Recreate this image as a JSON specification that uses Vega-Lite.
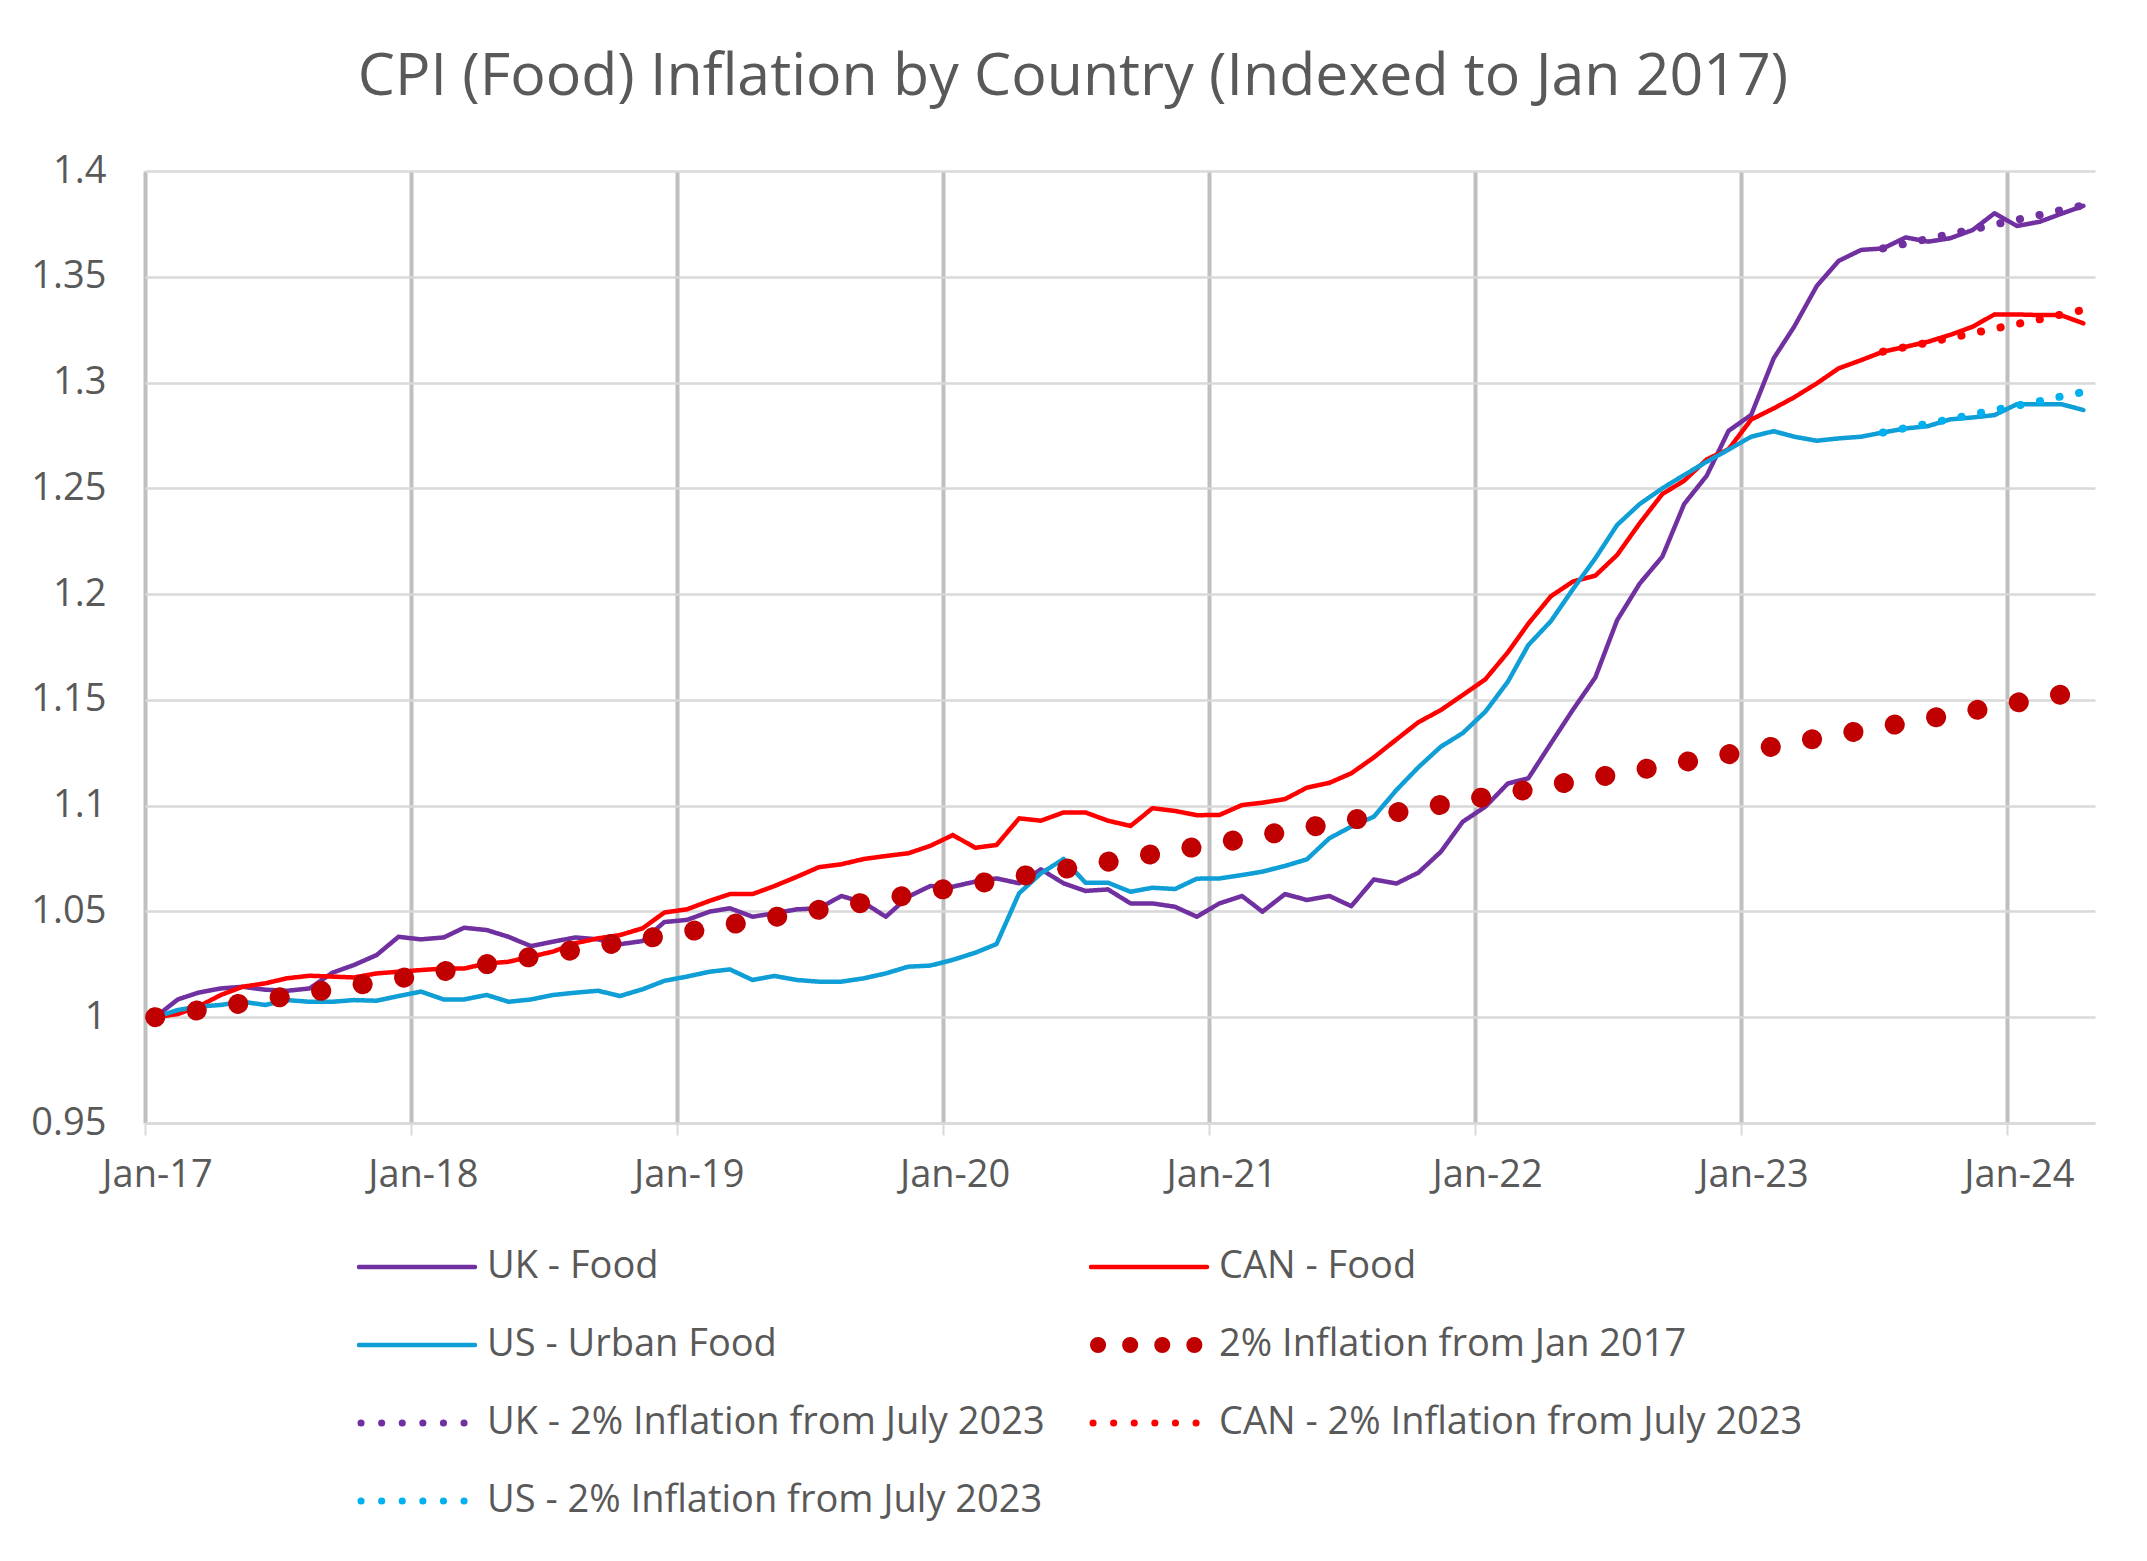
{
  "$schema": "https://vega.github.io/schema/vega-lite/v6.json",
  "autosize": {"type": "none"},
  "width": 1950,
  "height": 952,
  "padding": {"left": 145, "top": 171, "right": 52, "bottom": 438},
  "background": "white",
  "title": {
    "text": "CPI (Food) Inflation by Country (Indexed to Jan 2017)",
    "font": "Open Sans", "fontSize": 59, "fontWeight": "normal", "color": "#595959",
    "anchor": "middle", "dx": -47, "offset": 45
  },
  "data": {"values": [
    {"d":"2017-01-15","UK - Food":1.0000,"CAN - Food":1.0000,"US - Urban Food":1.0000,"2% Inflation from Jan 2017":1.0000},
    {"d":"2017-02-15","UK - Food":1.0084,"CAN - Food":1.0015,"US - Urban Food":1.0034,"2% Inflation from Jan 2017":1.0017},
    {"d":"2017-03-15","UK - Food":1.0116,"CAN - Food":1.0050,"US - Urban Food":1.0050,"2% Inflation from Jan 2017":1.0033},
    {"d":"2017-04-15","UK - Food":1.0136,"CAN - Food":1.0105,"US - Urban Food":1.0058,"2% Inflation from Jan 2017":1.0050},
    {"d":"2017-05-15","UK - Food":1.0144,"CAN - Food":1.0144,"US - Urban Food":1.0073,"2% Inflation from Jan 2017":1.0066},
    {"d":"2017-06-15","UK - Food":1.0130,"CAN - Food":1.0160,"US - Urban Food":1.0058,"2% Inflation from Jan 2017":1.0083},
    {"d":"2017-07-15","UK - Food":1.0125,"CAN - Food":1.0184,"US - Urban Food":1.0081,"2% Inflation from Jan 2017":1.0100},
    {"d":"2017-08-15","UK - Food":1.0136,"CAN - Food":1.0196,"US - Urban Food":1.0073,"2% Inflation from Jan 2017":1.0116},
    {"d":"2017-09-15","UK - Food":1.0210,"CAN - Food":1.0192,"US - Urban Food":1.0073,"2% Inflation from Jan 2017":1.0133},
    {"d":"2017-10-15","UK - Food":1.0247,"CAN - Food":1.0188,"US - Urban Food":1.0081,"2% Inflation from Jan 2017":1.0150},
    {"d":"2017-11-15","UK - Food":1.0294,"CAN - Food":1.0207,"US - Urban Food":1.0078,"2% Inflation from Jan 2017":1.0166},
    {"d":"2017-12-15","UK - Food":1.0380,"CAN - Food":1.0215,"US - Urban Food":1.0100,"2% Inflation from Jan 2017":1.0183},
    {"d":"2018-01-15","UK - Food":1.0368,"CAN - Food":1.0223,"US - Urban Food":1.0121,"2% Inflation from Jan 2017":1.0200},
    {"d":"2018-02-15","UK - Food":1.0377,"CAN - Food":1.0230,"US - Urban Food":1.0084,"2% Inflation from Jan 2017":1.0217},
    {"d":"2018-03-15","UK - Food":1.0423,"CAN - Food":1.0230,"US - Urban Food":1.0084,"2% Inflation from Jan 2017":1.0234},
    {"d":"2018-04-15","UK - Food":1.0412,"CAN - Food":1.0254,"US - Urban Food":1.0105,"2% Inflation from Jan 2017":1.0251},
    {"d":"2018-05-15","UK - Food":1.0380,"CAN - Food":1.0262,"US - Urban Food":1.0073,"2% Inflation from Jan 2017":1.0268},
    {"d":"2018-06-15","UK - Food":1.0336,"CAN - Food":1.0286,"US - Urban Food":1.0084,"2% Inflation from Jan 2017":1.0285},
    {"d":"2018-07-15","UK - Food":1.0357,"CAN - Food":1.0310,"US - Urban Food":1.0105,"2% Inflation from Jan 2017":1.0302},
    {"d":"2018-08-15","UK - Food":1.0377,"CAN - Food":1.0350,"US - Urban Food":1.0116,"2% Inflation from Jan 2017":1.0319},
    {"d":"2018-09-15","UK - Food":1.0368,"CAN - Food":1.0373,"US - Urban Food":1.0125,"2% Inflation from Jan 2017":1.0336},
    {"d":"2018-10-15","UK - Food":1.0345,"CAN - Food":1.0388,"US - Urban Food":1.0100,"2% Inflation from Jan 2017":1.0353},
    {"d":"2018-11-15","UK - Food":1.0360,"CAN - Food":1.0420,"US - Urban Food":1.0132,"2% Inflation from Jan 2017":1.0370},
    {"d":"2018-12-15","UK - Food":1.0450,"CAN - Food":1.0495,"US - Urban Food":1.0172,"2% Inflation from Jan 2017":1.0387},
    {"d":"2019-01-15","UK - Food":1.0460,"CAN - Food":1.0510,"US - Urban Food":1.0192,"2% Inflation from Jan 2017":1.0404},
    {"d":"2019-02-15","UK - Food":1.0499,"CAN - Food":1.0550,"US - Urban Food":1.0215,"2% Inflation from Jan 2017":1.0421},
    {"d":"2019-03-15","UK - Food":1.0515,"CAN - Food":1.0582,"US - Urban Food":1.0226,"2% Inflation from Jan 2017":1.0438},
    {"d":"2019-04-15","UK - Food":1.0475,"CAN - Food":1.0582,"US - Urban Food":1.0176,"2% Inflation from Jan 2017":1.0456},
    {"d":"2019-05-15","UK - Food":1.0491,"CAN - Food":1.0620,"US - Urban Food":1.0195,"2% Inflation from Jan 2017":1.0473},
    {"d":"2019-06-15","UK - Food":1.0510,"CAN - Food":1.0664,"US - Urban Food":1.0176,"2% Inflation from Jan 2017":1.0490},
    {"d":"2019-07-15","UK - Food":1.0515,"CAN - Food":1.0709,"US - Urban Food":1.0168,"2% Inflation from Jan 2017":1.0508},
    {"d":"2019-08-15","UK - Food":1.0573,"CAN - Food":1.0723,"US - Urban Food":1.0168,"2% Inflation from Jan 2017":1.0525},
    {"d":"2019-09-15","UK - Food":1.0541,"CAN - Food":1.0748,"US - Urban Food":1.0184,"2% Inflation from Jan 2017":1.0542},
    {"d":"2019-10-15","UK - Food":1.0475,"CAN - Food":1.0762,"US - Urban Food":1.0207,"2% Inflation from Jan 2017":1.0560},
    {"d":"2019-11-15","UK - Food":1.0570,"CAN - Food":1.0775,"US - Urban Food":1.0239,"2% Inflation from Jan 2017":1.0577},
    {"d":"2019-12-15","UK - Food":1.0620,"CAN - Food":1.0810,"US - Urban Food":1.0244,"2% Inflation from Jan 2017":1.0595},
    {"d":"2020-01-15","UK - Food":1.0617,"CAN - Food":1.0861,"US - Urban Food":1.0271,"2% Inflation from Jan 2017":1.0612},
    {"d":"2020-02-15","UK - Food":1.0641,"CAN - Food":1.0801,"US - Urban Food":1.0305,"2% Inflation from Jan 2017":1.0630},
    {"d":"2020-03-15","UK - Food":1.0656,"CAN - Food":1.0814,"US - Urban Food":1.0346,"2% Inflation from Jan 2017":1.0647},
    {"d":"2020-04-15","UK - Food":1.0633,"CAN - Food":1.0940,"US - Urban Food":1.0586,"2% Inflation from Jan 2017":1.0665},
    {"d":"2020-05-15","UK - Food":1.0699,"CAN - Food":1.0929,"US - Urban Food":1.0680,"2% Inflation from Jan 2017":1.0682},
    {"d":"2020-06-15","UK - Food":1.0633,"CAN - Food":1.0968,"US - Urban Food":1.0748,"2% Inflation from Jan 2017":1.0700},
    {"d":"2020-07-15","UK - Food":1.0597,"CAN - Food":1.0968,"US - Urban Food":1.0636,"2% Inflation from Jan 2017":1.0718},
    {"d":"2020-08-15","UK - Food":1.0604,"CAN - Food":1.0929,"US - Urban Food":1.0636,"2% Inflation from Jan 2017":1.0735},
    {"d":"2020-09-15","UK - Food":1.0538,"CAN - Food":1.0904,"US - Urban Food":1.0593,"2% Inflation from Jan 2017":1.0753},
    {"d":"2020-10-15","UK - Food":1.0538,"CAN - Food":1.0988,"US - Urban Food":1.0612,"2% Inflation from Jan 2017":1.0771},
    {"d":"2020-11-15","UK - Food":1.0522,"CAN - Food":1.0975,"US - Urban Food":1.0606,"2% Inflation from Jan 2017":1.0789},
    {"d":"2020-12-15","UK - Food":1.0475,"CAN - Food":1.0955,"US - Urban Food":1.0655,"2% Inflation from Jan 2017":1.0806},
    {"d":"2021-01-15","UK - Food":1.0538,"CAN - Food":1.0956,"US - Urban Food":1.0656,"2% Inflation from Jan 2017":1.0824},
    {"d":"2021-02-15","UK - Food":1.0573,"CAN - Food":1.1003,"US - Urban Food":1.0672,"2% Inflation from Jan 2017":1.0842},
    {"d":"2021-03-15","UK - Food":1.0499,"CAN - Food":1.1014,"US - Urban Food":1.0688,"2% Inflation from Jan 2017":1.0860},
    {"d":"2021-04-15","UK - Food":1.0582,"CAN - Food":1.1031,"US - Urban Food":1.0715,"2% Inflation from Jan 2017":1.0878},
    {"d":"2021-05-15","UK - Food":1.0554,"CAN - Food":1.1085,"US - Urban Food":1.0746,"2% Inflation from Jan 2017":1.0896},
    {"d":"2021-06-15","UK - Food":1.0573,"CAN - Food":1.1108,"US - Urban Food":1.0846,"2% Inflation from Jan 2017":1.0914},
    {"d":"2021-07-15","UK - Food":1.0525,"CAN - Food":1.1153,"US - Urban Food":1.0901,"2% Inflation from Jan 2017":1.0932},
    {"d":"2021-08-15","UK - Food":1.0651,"CAN - Food":1.1228,"US - Urban Food":1.0948,"2% Inflation from Jan 2017":1.0950},
    {"d":"2021-09-15","UK - Food":1.0632,"CAN - Food":1.1313,"US - Urban Food":1.1074,"2% Inflation from Jan 2017":1.0968},
    {"d":"2021-10-15","UK - Food":1.0683,"CAN - Food":1.1394,"US - Urban Food":1.1181,"2% Inflation from Jan 2017":1.0986},
    {"d":"2021-11-15","UK - Food":1.0782,"CAN - Food":1.1452,"US - Urban Food":1.1279,"2% Inflation from Jan 2017":1.1004},
    {"d":"2021-12-15","UK - Food":1.0924,"CAN - Food":1.1523,"US - Urban Food":1.1343,"2% Inflation from Jan 2017":1.1023},
    {"d":"2022-01-15","UK - Food":1.0995,"CAN - Food":1.1597,"US - Urban Food":1.1444,"2% Inflation from Jan 2017":1.1041},
    {"d":"2022-02-15","UK - Food":1.1105,"CAN - Food":1.1725,"US - Urban Food":1.1586,"2% Inflation from Jan 2017":1.1059},
    {"d":"2022-03-15","UK - Food":1.1129,"CAN - Food":1.1860,"US - Urban Food":1.1759,"2% Inflation from Jan 2017":1.1077},
    {"d":"2022-04-15","UK - Food":1.1294,"CAN - Food":1.1990,"US - Urban Food":1.1872,"2% Inflation from Jan 2017":1.1096},
    {"d":"2022-05-15","UK - Food":1.1452,"CAN - Food":1.2059,"US - Urban Food":1.2022,"2% Inflation from Jan 2017":1.1114},
    {"d":"2022-06-15","UK - Food":1.1606,"CAN - Food":1.2087,"US - Urban Food":1.2169,"2% Inflation from Jan 2017":1.1132},
    {"d":"2022-07-15","UK - Food":1.1877,"CAN - Food":1.2185,"US - Urban Food":1.2327,"2% Inflation from Jan 2017":1.1151},
    {"d":"2022-08-15","UK - Food":1.2050,"CAN - Food":1.2335,"US - Urban Food":1.2426,"2% Inflation from Jan 2017":1.1169},
    {"d":"2022-09-15","UK - Food":1.2177,"CAN - Food":1.2473,"US - Urban Food":1.2500,"2% Inflation from Jan 2017":1.1188},
    {"d":"2022-10-15","UK - Food":1.2426,"CAN - Food":1.2536,"US - Urban Food":1.2563,"2% Inflation from Jan 2017":1.1206},
    {"d":"2022-11-15","UK - Food":1.2560,"CAN - Food":1.2637,"US - Urban Food":1.2626,"2% Inflation from Jan 2017":1.1225},
    {"d":"2022-12-15","UK - Food":1.2772,"CAN - Food":1.2685,"US - Urban Food":1.2683,"2% Inflation from Jan 2017":1.1243},
    {"d":"2023-01-15","UK - Food":1.2847,"CAN - Food":1.2825,"US - Urban Food":1.2744,"2% Inflation from Jan 2017":1.1262},
    {"d":"2023-02-15","UK - Food":1.3115,"CAN - Food":1.2878,"US - Urban Food":1.2770,"2% Inflation from Jan 2017":1.1280},
    {"d":"2023-03-15","UK - Food":1.3264,"CAN - Food":1.2930,"US - Urban Food":1.2744,"2% Inflation from Jan 2017":1.1299},
    {"d":"2023-04-15","UK - Food":1.3456,"CAN - Food":1.2996,"US - Urban Food":1.2725,"2% Inflation from Jan 2017":1.1318},
    {"d":"2023-05-15","UK - Food":1.3575,"CAN - Food":1.3067,"US - Urban Food":1.2736,"2% Inflation from Jan 2017":1.1336},
    {"d":"2023-06-15","UK - Food":1.3627,"CAN - Food":1.3106,"US - Urban Food":1.2744,"2% Inflation from Jan 2017":1.1355},
    {"d":"2023-07-15","UK - Food":1.3634,"CAN - Food":1.3146,"US - Urban Food":1.2764,"2% Inflation from Jan 2017":1.1374,"UK - 2% Inflation from July 2023":1.3634,"CAN - 2% Inflation from July 2023":1.3146,"US - 2% Inflation from July 2023":1.2764},
    {"d":"2023-08-15","UK - Food":1.3686,"CAN - Food":1.3169,"US - Urban Food":1.2783,"2% Inflation from Jan 2017":1.1392,"UK - 2% Inflation from July 2023":1.3657,"CAN - 2% Inflation from July 2023":1.3168,"US - 2% Inflation from July 2023":1.2785},
    {"d":"2023-09-15","UK - Food":1.3666,"CAN - Food":1.3193,"US - Urban Food":1.2794,"2% Inflation from Jan 2017":1.1411,"UK - 2% Inflation from July 2023":1.3679,"CAN - 2% Inflation from July 2023":1.3189,"US - 2% Inflation from July 2023":1.2806},
    {"d":"2023-10-15","UK - Food":1.3682,"CAN - Food":1.3225,"US - Urban Food":1.2826,"2% Inflation from Jan 2017":1.1430,"UK - 2% Inflation from July 2023":1.3702,"CAN - 2% Inflation from July 2023":1.3211,"US - 2% Inflation from July 2023":1.2827},
    {"d":"2023-11-15","UK - Food":1.3721,"CAN - Food":1.3264,"US - Urban Food":1.2835,"2% Inflation from Jan 2017":1.1449,"UK - 2% Inflation from July 2023":1.3724,"CAN - 2% Inflation from July 2023":1.3233,"US - 2% Inflation from July 2023":1.2849},
    {"d":"2023-12-15","UK - Food":1.3800,"CAN - Food":1.3322,"US - Urban Food":1.2846,"2% Inflation from Jan 2017":1.1468,"UK - 2% Inflation from July 2023":1.3747,"CAN - 2% Inflation from July 2023":1.3255,"US - 2% Inflation from July 2023":1.2870},
    {"d":"2024-01-15","UK - Food":1.3740,"CAN - Food":1.3322,"US - Urban Food":1.2898,"2% Inflation from Jan 2017":1.1487,"UK - 2% Inflation from July 2023":1.3770,"CAN - 2% Inflation from July 2023":1.3277,"US - 2% Inflation from July 2023":1.2891},
    {"d":"2024-02-15","UK - Food":1.3760,"CAN - Food":1.3319,"US - Urban Food":1.2898,"2% Inflation from Jan 2017":1.1506,"UK - 2% Inflation from July 2023":1.3792,"CAN - 2% Inflation from July 2023":1.3299,"US - 2% Inflation from July 2023":1.2912},
    {"d":"2024-03-15","UK - Food":1.3797,"CAN - Food":1.3319,"US - Urban Food":1.2898,"2% Inflation from Jan 2017":1.1525,"UK - 2% Inflation from July 2023":1.3815,"CAN - 2% Inflation from July 2023":1.3321,"US - 2% Inflation from July 2023":1.2934},
    {"d":"2024-04-15","UK - Food":1.3835,"CAN - Food":1.3280,"US - Urban Food":1.2870,"2% Inflation from Jan 2017":1.1544,"UK - 2% Inflation from July 2023":1.3838,"CAN - 2% Inflation from July 2023":1.3343,"US - 2% Inflation from July 2023":1.2955}
  ]},
  "transform": [
    {"fold": ["UK - Food","CAN - Food","US - Urban Food","2% Inflation from Jan 2017","UK - 2% Inflation from July 2023","CAN - 2% Inflation from July 2023","US - 2% Inflation from July 2023"], "as": ["series","value"]},
    {"filter": "isValid(datum.value)"}
  ],
  "mark": {"type": "line", "strokeCap": "round", "strokeJoin": "round"},
  "encoding": {
    "x": {
      "field": "d", "type": "temporal",
      "scale": {"type": "utc", "domain": [{"year": 2017, "month": 1, "date": 1, "utc": true}, {"year": 2024, "month": 5, "date": 1, "utc": true}]},
      "axis": {
        "title": null, "format": "%b-%y",
        "values": [
          {"year": 2017, "month": 1, "date": 1, "utc": true},
          {"year": 2018, "month": 1, "date": 1, "utc": true},
          {"year": 2019, "month": 1, "date": 1, "utc": true},
          {"year": 2020, "month": 1, "date": 1, "utc": true},
          {"year": 2021, "month": 1, "date": 1, "utc": true},
          {"year": 2022, "month": 1, "date": 1, "utc": true},
          {"year": 2023, "month": 1, "date": 1, "utc": true},
          {"year": 2024, "month": 1, "date": 1, "utc": true}
        ],
        "grid": true, "gridColor": "#BFBFBF", "gridWidth": 4,
        "ticks": true, "tickColor": "#D9D9D9", "tickWidth": 2, "tickSize": 12,
        "domain": true, "domainColor": "#D9D9D9", "domainWidth": 2.5,
        "labelFont": "Open Sans", "labelFontSize": 38, "labelColor": "#595959",
        "labelPadding": 21, "labelOffset": 12, "labelFlush": false, "labelOverlap": false, "labelBound": false
      }
    },
    "y": {
      "field": "value", "type": "quantitative",
      "scale": {"domain": [0.95, 1.4], "nice": false, "zero": false},
      "axis": {
        "title": null, "values": [0.95, 1, 1.05, 1.1, 1.15, 1.2, 1.25, 1.3, 1.35, 1.4], "format": "~g",
        "domain": false, "ticks": false, "grid": true, "gridColor": "#D9D9D9", "gridWidth": 2.5,
        "labelFont": "Open Sans", "labelFontSize": 38, "labelColor": "#595959", "labelPadding": 39
      }
    },
    "color": {
      "field": "series", "type": "nominal",
      "scale": {
        "domain": ["UK - Food","US - Urban Food","UK - 2% Inflation from July 2023","US - 2% Inflation from July 2023","CAN - Food","2% Inflation from Jan 2017","CAN - 2% Inflation from July 2023"],
        "range": ["#7030A0","#0F9ED5","#7030A0","#00B0F0","#FF0000","#C00000","#FF0000"]
      },
      "legend": {
        "title": null, "orient": "none", "legendX": 212, "legendY": 1076,
        "columns": 2, "gridAlign": "each", "columnPadding": 44, "rowPadding": 38, "padding": 0,
        "clipHeight": 40, "symbolType": "stroke", "symbolSize": 13456, "symbolStrokeWidth": 4.5, "labelOffset": 11,
        "labelFont": "Open Sans", "labelFontSize": 38, "labelColor": "#595959", "labelLimit": 1000,
        "encoding": {
          "symbols": {
            "x": {"value": 60},
            "strokeCap": {"value": "round"},
            "strokeWidth": {"value": {"expr": "datum.value == '2% Inflation from Jan 2017' ? 16 : (datum.value == 'UK - 2% Inflation from July 2023' || datum.value == 'CAN - 2% Inflation from July 2023' || datum.value == 'US - 2% Inflation from July 2023') ? 7 : 4.5"}},
            "strokeDash": {"value": {"expr": "datum.value == '2% Inflation from Jan 2017' ? [0.1, 32] : (datum.value == 'UK - 2% Inflation from July 2023' || datum.value == 'CAN - 2% Inflation from July 2023' || datum.value == 'US - 2% Inflation from July 2023') ? [0.1, 20.5] : [1, 0]"}},
            "strokeDashOffset": {"value": {"expr": "datum.value == '2% Inflation from Jan 2017' ? -7 : -2"}}
          },
          "labels": {
            "x": {"value": 130}
          }
        }
      }
    },
    "strokeDash": {
      "condition": [
        {"test": "datum.series == '2% Inflation from Jan 2017'", "value": [0.1, 41.9]},
        {"test": "datum.series == 'UK - 2% Inflation from July 2023' || datum.series == 'CAN - 2% Inflation from July 2023' || datum.series == 'US - 2% Inflation from July 2023'", "value": [0.1, 19.9]}
      ],
      "value": [1, 0]
    },
    "strokeWidth": {
      "condition": [
        {"test": "datum.series == '2% Inflation from Jan 2017'", "value": 20},
        {"test": "datum.series == 'UK - 2% Inflation from July 2023' || datum.series == 'CAN - 2% Inflation from July 2023' || datum.series == 'US - 2% Inflation from July 2023'", "value": 8}
      ],
      "value": 4.5
    }
  },
  "config": {"view": {"stroke": null}}
}
